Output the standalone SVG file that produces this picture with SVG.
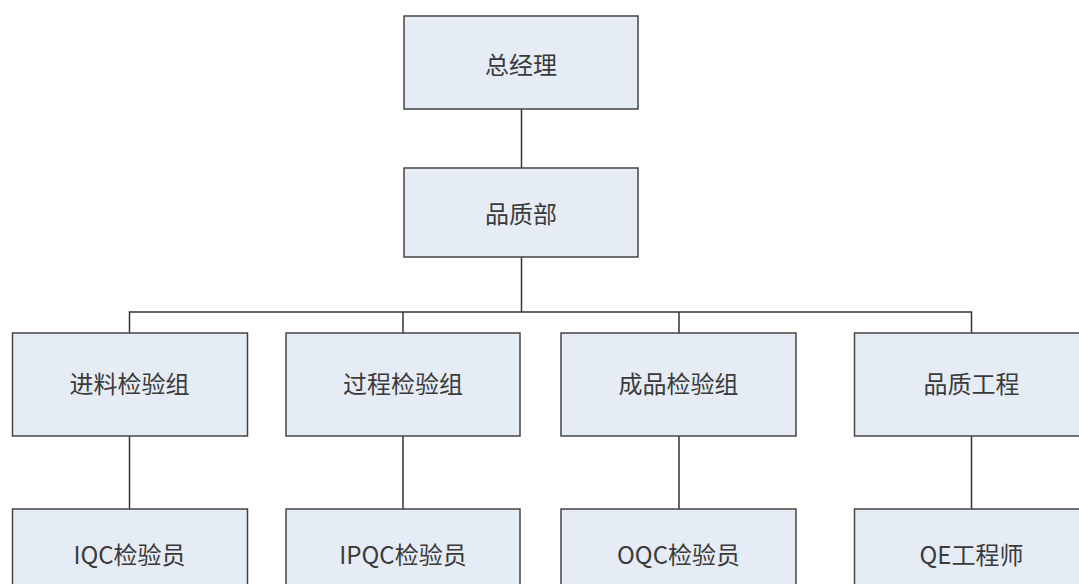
<svg xmlns="http://www.w3.org/2000/svg" width="1079" height="584" viewBox="0 0 1079 584">
<style>
.box{fill:#e6ecf6;stroke:#444;stroke-width:1.5}
.lbl{font-family:"Noto Sans CJK SC","Noto Sans",sans-serif;font-size:24px;fill:#3a3a3a;text-anchor:middle;dominant-baseline:central}
.con{fill:none;stroke:#333;stroke-width:1.5}
</style>
<rect width="1079" height="584" fill="#fff"/>
<g id="connectors">
<path class="con" d="M521.5 109V168"/>
<path class="con" d="M521.5 257V312"/>
<path class="con" d="M129.5 333V312H971.5V333"/>
<path class="con" d="M403 312V333"/>
<path class="con" d="M679 312V333"/>
<path class="con" d="M129.5 436V509"/>
<path class="con" d="M403 436V509"/>
<path class="con" d="M679 436V509"/>
<path class="con" d="M971.5 436V509"/>
</g>
<g id="n-gm"><rect class="box" x="404" y="16" width="234" height="93"/><text class="lbl" x="521" y="63">总经理</text></g>
<g id="n-qa"><rect class="box" x="404" y="168" width="234" height="89"/><text class="lbl" x="521" y="212">品质部</text></g>
<g id="n-iqc-grp"><rect class="box" x="12.5" y="333" width="235" height="103"/><text class="lbl" x="129.5" y="382">进料检验组</text></g>
<g id="n-ipqc-grp"><rect class="box" x="286" y="333" width="234" height="103"/><text class="lbl" x="403" y="382">过程检验组</text></g>
<g id="n-oqc-grp"><rect class="box" x="561" y="333" width="235" height="103"/><text class="lbl" x="678.5" y="382">成品检验组</text></g>
<g id="n-qe-grp"><rect class="box" x="854.5" y="333" width="235" height="103"/><text class="lbl" x="971.5" y="382">品质工程</text></g>
<g id="n-iqc"><rect class="box" x="12.5" y="509" width="235" height="100"/><text class="lbl" x="129.5" y="553">IQC检验员</text></g>
<g id="n-ipqc"><rect class="box" x="286" y="509" width="234" height="100"/><text class="lbl" x="403" y="553">IPQC检验员</text></g>
<g id="n-oqc"><rect class="box" x="561" y="509" width="235" height="100"/><text class="lbl" x="678.5" y="553">OQC检验员</text></g>
<g id="n-qe"><rect class="box" x="854.5" y="509" width="235" height="100"/><text class="lbl" x="971.5" y="553">QE工程师</text></g>
</svg>
